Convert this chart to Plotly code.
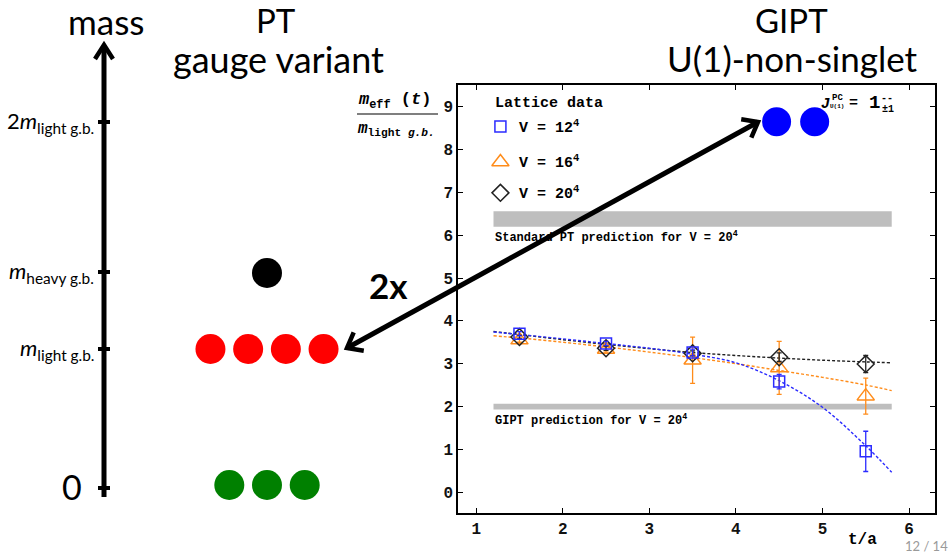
import numpy as np
import plotly.graph_objects as go

# ---------------- data (inset: lattice effective masses) ----------------
t_vals = [1.5, 2.5, 3.5, 4.5, 5.5]
m_12 = [3.70, 3.47, 3.26, 2.58, 0.95]
e_12 = [0.05, 0.05, 0.08, 0.17, 0.47]
m_16 = [3.55, 3.33, 3.08, 2.90, 2.24]
e_16 = [0.05, 0.06, 0.54, 0.62, 0.42]
m_20 = [3.62, 3.36, 3.24, 3.15, 2.99]
e_20 = [0.04, 0.05, 0.06, 0.10, 0.20]

fit_t = [1.2, 1.5, 2.0, 2.5, 3.0, 3.5, 4.0, 4.5, 5.0, 5.5, 5.8]
fit_12 = [3.74, 3.68, 3.58, 3.47, 3.36, 3.22, 3.02, 2.60, 1.98, 1.08, 0.46]
fit_16 = [3.65, 3.60, 3.50, 3.39, 3.27, 3.14, 3.00, 2.84, 2.68, 2.50, 2.37]
fit_20 = [3.75, 3.68, 3.56, 3.45, 3.35, 3.26, 3.19, 3.13, 3.08, 3.04, 3.02]

band_t = [1.2, 5.8]
band_pt = [6.20, 6.56]
band_gipt = [1.93, 2.06]

gipt_states_t = [4.47, 4.91]
gipt_states_m = [8.65, 8.65]

x_ticks = [1, 2, 3, 4, 5, 6]
y_ticks = [0, 1, 2, 3, 4, 5, 6, 7, 8, 9]

# ---------------- data (schematic PT spectrum) ----------------
levels = ["0", "m_light", "m_heavy", "2m_light"]
level_labels = ["0",
                "<i>m</i><sub>light g.b.</sub>",
                "<i>m</i><sub>heavy g.b.</sub>",
                "2<i>m</i><sub>light g.b.</sub>"]
level_counts = [3, 4, 1, 0]
level_colors = ["#008000", "#ff0000", "#000000", "#000000"]

# ---------------- layout helpers (positions / styles) ----------------
W, H = 952, 553
level_px = {"0": 485, "m_light": 349, "m_heavy": 273, "2m_light": 122}
level_tick_px = {"0": 488, "m_light": 349, "m_heavy": 272, "2m_light": 122}
axis_x_px = 104
particle_center_px = 267
particle_spacing_px = 37.7

BLUE = "#2b2bff"
ORANGE = "#ff8c1a"
BLACK = "#222222"
GRAY = "#bebebe"
MONO = "Liberation Mono"
SANS = "Lato"

fig = go.Figure()

# gray prediction bands
for lo, hi in (band_pt, band_gipt):
    fig.add_trace(go.Scatter(
        x=[band_t[0], band_t[1], band_t[1], band_t[0], band_t[0]],
        y=[lo, lo, hi, hi, lo], mode="lines", fill="toself",
        fillcolor=GRAY, line=dict(width=0, color=GRAY),
        hoverinfo="skip", showlegend=False))

# fit curves
for fy, col in ((fit_16, ORANGE), (fit_20, BLACK), (fit_12, BLUE)):
    fig.add_trace(go.Scatter(
        x=fit_t, y=fy, mode="lines", line=dict(color=col, width=1.4, dash="3px,2px", shape="spline"),
        hoverinfo="skip", showlegend=False))

# data points
series = [
    (m_16, e_16, ORANGE, "triangle-up-open", 15),
    (m_20, e_20, BLACK, "diamond-open", 13),
    (m_12, e_12, BLUE, "square-open", 11),
]
for my, ey, col, sym, sz in series:
    fig.add_trace(go.Scatter(
        x=t_vals, y=my, mode="markers",
        marker=dict(symbol=sym, size=sz, color=col, line=dict(width=1.5, color=col)),
        error_y=dict(type="data", array=ey, color=col, thickness=1.3, width=2.5),
        showlegend=False))

# GIPT states (blue blobs)
fig.add_trace(go.Scatter(
    x=gipt_states_t, y=gipt_states_m, mode="markers",
    marker=dict(size=29, color="#0000ff"), showlegend=False))

# legend-like markers inside plot
leg_y = [8.54, 7.71, 6.99]
leg_sym = [("square-open", BLUE, 11), ("triangle-up-open", ORANGE, 15), ("diamond-open", BLACK, 13)]
for yy, (sym, col, sz) in zip(leg_y, leg_sym):
    fig.add_trace(go.Scatter(x=[1.28], y=[yy], mode="markers",
                             marker=dict(symbol=sym, size=sz, color=col, line=dict(width=1.5, color=col)),
                             showlegend=False))

annotations = []

def ann(text, x, y, size, xref="x", yref="y", xanchor="left", yanchor="middle",
        family=MONO, color="#000", bold=False):
    annotations.append(dict(
        text=text, x=x, y=y, xref=xref, yref=yref, xanchor=xanchor, yanchor=yanchor,
        showarrow=False, font=dict(family=family, size=size, color=color,
                                   weight="bold" if bold else "normal")))

ann("Lattice data", 1.2, 9.08, 15, bold=True)
for yy, v in zip(leg_y, ["12", "16", "20"]):
    ann(f"V = {v}<sup>4</sup>", 1.47, yy, 15, bold=True)
ann("Standard PT prediction for V = 20<sup>4</sup>", 1.2, 5.97, 12, bold=True)
ann("GIPT prediction for V = 20<sup>4</sup>", 1.2, 1.68, 12, bold=True)

# J^PC label (pixel positions via x2/y2)
ann("<i>J</i>", 825, 104, 15, xref="x2", yref="y2", xanchor="center", bold=True)
ann("PC", 837, 98, 9, xref="x2", yref="y2", xanchor="center", bold=True)
ann("U(1)", 837, 106, 6, xref="x2", yref="y2", xanchor="center", bold=True)
ann("=", 853, 103, 15, xref="x2", yref="y2", xanchor="center", bold=True)
ann("1", 874, 103, 19, xref="x2", yref="y2", xanchor="center", bold=True)
ann("--", 887, 98, 10, xref="x2", yref="y2", xanchor="center", bold=True)
ann("±1", 888, 109, 10, xref="x2", yref="y2", xanchor="center", bold=True)

# y-axis fraction title
ann("<i>m</i><sub>eff</sub> (<i>t</i>)", 394, 101, 17, xref="x2", yref="y2", xanchor="center", bold=True)
ann("<i>m</i><sub>light <i>g.b.</i></sub>", 396, 129, 16, xref="x2", yref="y2", xanchor="center", bold=True)
ann("t/a", 862, 540, 16, xref="x2", yref="y2", xanchor="center", bold=True)

# slide titles
ann("mass", 106, 21, 35, xref="x2", yref="y2", xanchor="center", family=SANS)
ann("PT", 276, 20, 33, xref="x2", yref="y2", xanchor="center", family=SANS)
ann("gauge variant", 278, 59, 36, xref="x2", yref="y2", xanchor="center", family=SANS)
ann("GIPT", 791, 20, 33, xref="x2", yref="y2", xanchor="center", family=SANS)
ann("U(1)-non-singlet", 792, 58, 35, xref="x2", yref="y2", xanchor="center", family=SANS)
ann("2x", 388, 285, 35, xref="x2", yref="y2", xanchor="center", family=SANS, bold=True)
ann("12 / 14", 950, 546, 13, xref="x2", yref="y2", xanchor="right", family=SANS, color="#9a9a9a")

# level labels
for lv, lab in zip(levels, level_labels):
    if lv == "0":
        ann(lab, 84, level_tick_px[lv] - 2, 34, xref="x2", yref="y2", xanchor="right", family=SANS)
    else:
        ann(lab, 96, level_tick_px[lv], 22, xref="x2", yref="y2", xanchor="right", family=SANS)

# mass axis arrow
fig.add_trace(go.Scatter(x=[axis_x_px, axis_x_px], y=[497, 47], xaxis="x2", yaxis="y2",
                         mode="lines", line=dict(color="#000", width=5), showlegend=False, hoverinfo="skip"))
fig.add_trace(go.Scatter(x=[axis_x_px - 9, axis_x_px, axis_x_px + 9], y=[59, 45, 59], xaxis="x2", yaxis="y2",
                         mode="lines", line=dict(color="#000", width=4.5), showlegend=False, hoverinfo="skip"))
for lv in levels:
    yy = level_tick_px[lv]
    fig.add_trace(go.Scatter(x=[axis_x_px - 6, axis_x_px + 6], y=[yy, yy], xaxis="x2", yaxis="y2",
                             mode="lines", line=dict(color="#000", width=4), showlegend=False, hoverinfo="skip"))

# PT particles
for lv, n, col in zip(levels, level_counts, level_colors):
    if n == 0:
        continue
    xs = [particle_center_px + (i - (n - 1) / 2) * particle_spacing_px for i in range(n)]
    fig.add_trace(go.Scatter(x=xs, y=[level_px[lv]] * n, xaxis="x2", yaxis="y2", mode="markers",
                             marker=dict(size=30, color=col), showlegend=False, hoverinfo="skip"))

# double-headed "2x" arrow
p0 = np.array([347.0, 348.0])
p1 = np.array([758.0, 122.0])
fig.add_trace(go.Scatter(x=[p0[0], p1[0]], y=[p0[1], p1[1]], xaxis="x2", yaxis="y2", mode="lines",
                         line=dict(color="#000", width=5), showlegend=False, hoverinfo="skip"))
d = (p1 - p0) / np.linalg.norm(p1 - p0)
def rot(v, a):
    c, s = np.cos(a), np.sin(a)
    return np.array([c * v[0] - s * v[1], s * v[0] + c * v[1]])
for tip, dirv in ((p0, d), (p1, -d)):
    a1 = tip + 17 * rot(dirv, np.radians(38))
    a2 = tip + 17 * rot(dirv, np.radians(-38))
    fig.add_trace(go.Scatter(x=[a1[0], tip[0], a2[0]], y=[a1[1], tip[1], a2[1]], xaxis="x2", yaxis="y2",
                             mode="lines", line=dict(color="#000", width=4.5), showlegend=False, hoverinfo="skip"))

# y-axis title fraction bar
fig.add_trace(go.Scatter(x=[357, 438], y=[114, 114], xaxis="x2", yaxis="y2", mode="lines",
                         line=dict(color="#000", width=1.2), showlegend=False, hoverinfo="skip"))

axis_common = dict(showline=True, linecolor="#000", linewidth=1.5, mirror="ticks", ticks="inside",
                   ticklen=5, tickwidth=1.2, tickcolor="#000", showgrid=False, zeroline=False,
                   tickfont=dict(family=MONO, size=16, color="#111", weight="bold"))

fig.update_layout(
    width=W, height=H, margin=dict(l=0, r=0, t=0, b=0),
    paper_bgcolor="white", plot_bgcolor="rgba(0,0,0,0)",
    showlegend=False,
    xaxis=dict(domain=[458 / W, 935 / W], range=[0.79, 6.30], tickvals=x_ticks, anchor="y", **axis_common),
    yaxis=dict(domain=[1 - 513 / H, 1 - 85 / H], range=[-0.49, 9.51], tickvals=y_ticks, anchor="x", **axis_common),
    xaxis2=dict(domain=[0, 1], range=[0, W], visible=False, anchor="y2", fixedrange=True),
    yaxis2=dict(domain=[0, 1], range=[H, 0], visible=False, anchor="x2", fixedrange=True),
    annotations=annotations,
)

fig.write_html("out.html")
